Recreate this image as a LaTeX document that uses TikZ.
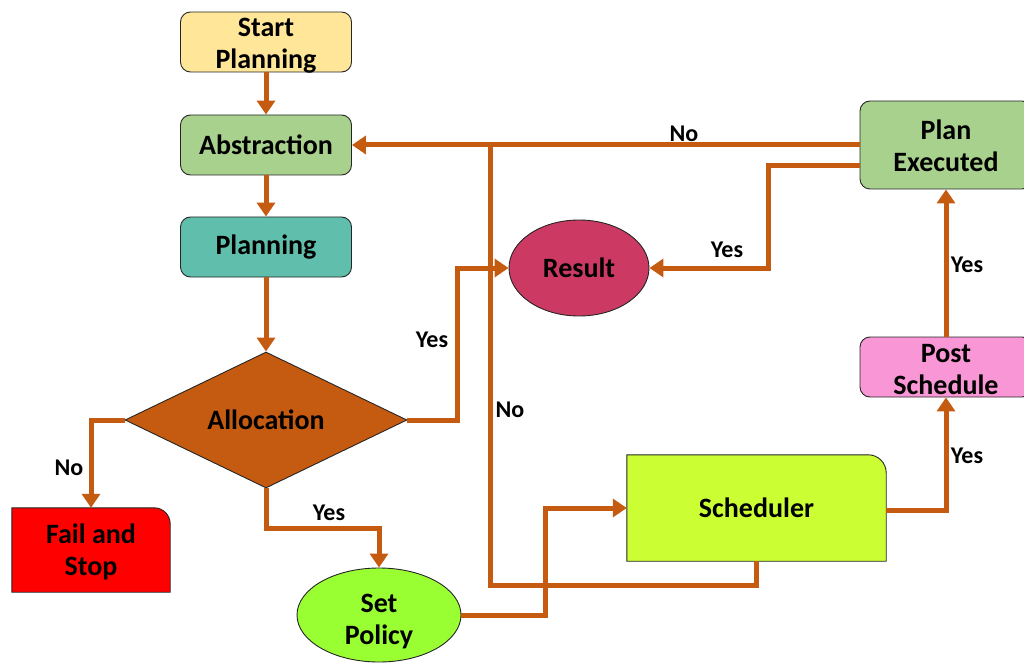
\documentclass[tikz,border=0pt]{standalone}
\usepackage{fontspec}
\setmainfont{Carlito}
\usetikzlibrary{arrows.meta,shapes.geometric,backgrounds}
\definecolor{orng}{HTML}{C55A11}
\definecolor{startc}{HTML}{FFE699}
\definecolor{greenc}{HTML}{A9D18E}
\definecolor{tealc}{HTML}{60BFAC}
\definecolor{failc}{HTML}{FF0000}
\definecolor{policyc}{HTML}{99FF33}
\definecolor{schedc}{HTML}{CCFF33}
\definecolor{postc}{HTML}{F996D6}
\definecolor{resultc}{HTML}{CC3A63}
\begin{document}
\begin{tikzpicture}[x=1pt,y=1pt,
  txt/.style={align=center,font=\bfseries\fontsize{28}{32}\selectfont,inner sep=0pt},
  box/.style={txt,draw=black!85,line width=0.9pt,rounded corners=10pt,minimum width=171pt,minimum height=60pt},
  outl/.style={draw=black!85,line width=0.9pt},
  lower/.style 2 args={text height=#1,text depth=#2},
  lbl/.style={font=\bfseries\fontsize{24}{26}\selectfont,inner sep=0pt},
  conn/.style={draw=orng,line width=5pt},
  arr/.style={conn,-{Triangle[length=14pt,width=18pt]}}]
\useasboundingbox (0,0) rectangle (1024,665);
\clip (0,0) rectangle (1024,665);

% nodes
\node[box,fill=startc,lower={55pt}{1pt}] (start) at (266,623) {Start\\Planning};
\node[box,fill=greenc] (abs) at (266,520) {Abstraction};
\node[box,fill=tealc] (plan) at (266,418) {Planning};
\node[txt,outl,diamond,fill=orng,minimum width=282pt,minimum height=136pt,aspect=2.07] (alloc) at (266,245) {Allocation};
\node[txt,minimum width=158pt,minimum height=84pt,lower={53pt}{3pt}] (fail) at (91,115) {Fail and\\Stop};
\node[txt,outl,ellipse,fill=policyc,minimum width=164pt,minimum height=94pt,lower={58pt}{0pt}] (policy) at (379,50) {Set\\Policy};
\node[txt,minimum width=259pt,minimum height=106pt] (sched) at (756.5,157) {Scheduler};
\node[box,fill=postc,minimum width=172pt,minimum height=60pt,lower={54pt}{0pt}] (post) at (946,298) {Post\\Schedule};
\node[box,fill=greenc,minimum width=172pt,minimum height=88pt,lower={54pt}{0pt}] (exec) at (946,520) {Plan\\Executed};
\node[txt,outl,ellipse,fill=resultc,minimum width=140pt,minimum height=96pt] (result) at (579,397) {Result};

\begin{scope}[on background layer]
\draw[outl,fill=failc] (fail.south west) -- (fail.north west) -- ([xshift=-16pt]fail.north east)
  arc[start angle=90,end angle=0,radius=16pt] -- (fail.south east) -- cycle;
\draw[outl,fill=schedc] (sched.south west) -- (sched.north west) -- ([xshift=-18pt]sched.north east)
  arc[start angle=90,end angle=0,radius=18pt] -- (sched.south east) -- cycle;
\end{scope}

% connectors
\draw[arr] (start) -- (abs);
\draw[arr] (abs) -- (plan);
\draw[arr] (plan) -- (alloc);
\draw[arr] (alloc.west) -| (fail.north);
\draw[arr] (alloc.south) -- ++(0,-40) -| (policy.north);
\draw[arr] (alloc.east) -- ++(50,0) |- (result.west);
\draw[arr] (policy.east) -- ++(84,0) |- (sched.west);
\draw[arr] ([yshift=-2pt]sched.east) -| (post.south);
\draw[arr] (post.north) -- (exec.south);
\draw[arr] ([yshift=-21pt]exec.west) -- ++(-91,0) |- (result.east);
\draw[arr] (exec.west) -- (abs.east);
\coordinate (join) at (490,520);
\draw[conn] (sched.south) -- ++(0,-24) -| (join);

% labels
\node[lbl] (l1) at (684,531) {No};
\node[lbl] (l2) at (727,415) {Yes};
\node[lbl] (l3) at (967,400) {Yes};
\node[lbl] (l4) at (432,325) {Yes};
\node[lbl] (l5) at (510,255) {No};
\node[lbl] (l6) at (967,209) {Yes};
\node[lbl] (l7) at (69,197) {No};
\node[lbl] (l8) at (329,152) {Yes};
\end{tikzpicture}
\end{document}
